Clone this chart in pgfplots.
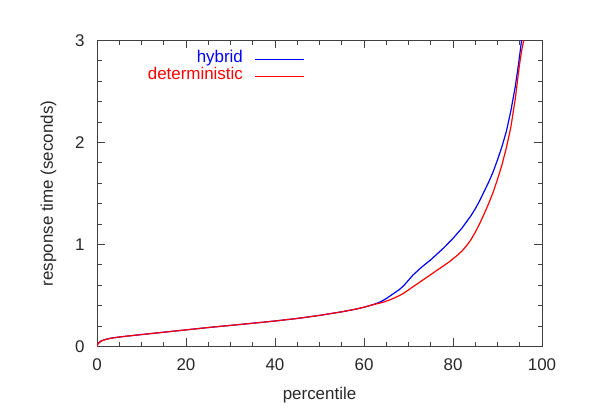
\documentclass[border=0pt]{standalone}
\usepackage{fontspec}
\setmainfont{Liberation Sans}
\usepackage{pgfplots}
\pgfplotsset{compat=1.18}
\definecolor{axgray}{RGB}{64,64,64}
\definecolor{txtgray}{RGB}{40,40,40}
\begin{document}
\begin{tikzpicture}
\useasboundingbox (0bp,0bp) rectangle (600bp,420bp);
\begin{axis}[
  at={(97bp,73.5bp)}, anchor=south west,
  scale only axis, width=445bp, height=306bp,
  xmin=0, xmax=100, ymin=0, ymax=3,
  xtick={0,20,40,60,80,100}, ytick={0,1,2,3},
  minor x tick num=3, minor y tick num=4,
  tick align=inside,
  major tick length=8bp, minor tick length=4.5bp,
  axis line style={axgray, line width=0.9bp},
  every tick/.style={axgray, line width=0.9bp},
  /pgf/number format/assume math mode=true,
  tick label style={font=\fontsize{17}{20}\selectfont, text=txtgray},
  xticklabel style={anchor=base, yshift=-24.5bp, inner sep=0pt},
  yticklabel style={anchor=east, inner sep=0pt, xshift=-12.3bp},
  xlabel={percentile}, ylabel={response time (seconds)},
  label style={font=\fontsize{17}{20}\selectfont, text=txtgray},
  xlabel style={at={(axis description cs:0.5,-0.1716)}, anchor=base},
  ylabel style={at={(axis description cs:-0.0989,0.5)}, anchor=base, rotate=0},
  legend plot pos=right, legend cell align=right,
  legend style={at={(rel axis cs:0.4674,0.9667)}, anchor=north east,
    draw=none, fill=none, inner sep=0pt, column sep=11.7bp, row sep=0pt,
    font=\fontsize{17}{20}\selectfont,
    nodes={inner sep=0pt, text height=12bp, text depth=4.6bp}},
]
\addplot[blue, line width=1.2bp,
  legend image code/.code={\draw[blue, line width=1.2bp] (0bp,-0.5bp) -- (49bp,-0.5bp);}] coordinates {
(0,0) (0.2,0.025) (0.5,0.04) (1,0.055) (2,0.07) (3,0.08) (4,0.087) (5,0.093)
(7,0.103) (10,0.117) (15,0.14) (20,0.163) (25,0.186) (30,0.207) (35,0.228)
(40,0.25) (45,0.275) (50,0.305) (55,0.34) (58,0.365) (60,0.385) (62,0.41)
(63,0.425) (64,0.445) (65,0.47) (66,0.50) (67,0.53) (68,0.56) (69,0.60)
(70,0.65) (71,0.70) (72,0.74) (73,0.78) (74,0.815) (75,0.85) (76,0.89)
(77,0.93) (78,0.97) (79,1.015) (80,1.06) (81,1.11) (82,1.16) (83,1.22)
(84,1.28) (85,1.35) (86,1.43) (87,1.52) (88,1.61) (89,1.71) (90,1.83)
(91,1.96) (92,2.11) (93,2.31) (94,2.55) (94.5,2.70) (95,2.86) (95.4,3.0) (95.5,3.04)
};
\addlegendentry[text=blue]{hybrid}
\addplot[red, line width=1.2bp,
  legend image code/.code={\draw[red, line width=1.2bp] (0bp,-0.5bp) -- (49bp,-0.5bp);}] coordinates {
(0,0) (0.2,0.025) (0.5,0.04) (1,0.055) (2,0.07) (3,0.08) (4,0.087) (5,0.093)
(7,0.103) (10,0.117) (15,0.14) (20,0.163) (25,0.186) (30,0.207) (35,0.228)
(40,0.25) (45,0.275) (50,0.305) (55,0.34) (58,0.365) (60,0.385) (62,0.41)
(63,0.42) (64,0.43) (65,0.445) (66,0.46) (67,0.48) (68,0.50) (69,0.525)
(70,0.555) (71,0.585) (72,0.615) (73,0.645) (74,0.675) (75,0.705) (76,0.735)
(77,0.765) (78,0.795) (79,0.825) (80,0.86) (81,0.895) (82,0.935) (83,0.985)
(84,1.045) (85,1.12) (86,1.205) (87,1.30) (88,1.40) (89,1.51) (90,1.64)
(91,1.78) (92,1.95) (93,2.15) (94,2.43) (94.5,2.61) (95,2.78) (95.5,2.92) (95.9,3.0) (96,3.03)
};
\addlegendentry[text=red]{deterministic}
\end{axis}
\end{tikzpicture}
\end{document}
